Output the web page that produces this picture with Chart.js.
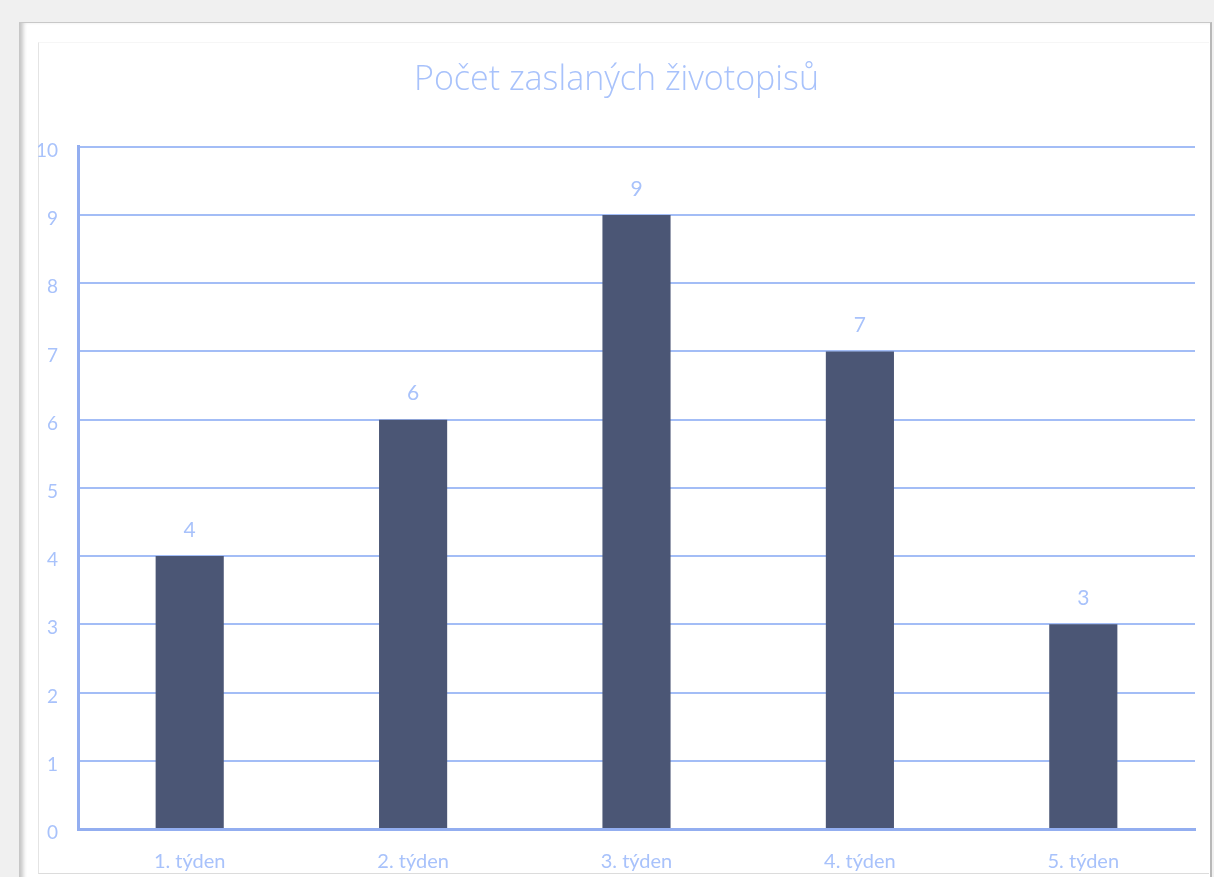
<!DOCTYPE html>
<html>
<head>
<meta charset="utf-8">
<script src="https://cdn.jsdelivr.net/npm/chart.js@4/dist/chart.umd.min.js"></script>
<style>
  html, body { margin: 0; padding: 0; background: #f0f0f0; overflow: hidden; }
  #panel {
    position: absolute; left: 19px; top: 22px; width: 1191px; height: 880px;
    background: #fff; border-top: 1px solid #c8c8c8; border-right: 2px solid #b8b8b8;
    box-shadow: inset 6px 0 4px -2px #c4c4c4;
  }
  #inner {
    position: absolute; left: 38px; top: 42px; width: 1170px; height: 830px;
    border-left: 1px solid #e4e4e4; border-top: 1px solid #f6f6f6; border-bottom: 1px solid #dcdcdc;
  }
  #wrap { position: absolute; left: 38px; top: 42px; width: 1172px; height: 835px; }
</style>
</head>
<body>
<div id="panel"></div>
<div id="inner"></div>
<div id="wrap"><canvas id="chart"></canvas></div>
<script>
const weeks = ['1. týden', '2. týden', '3. týden', '4. týden', '5. týden'];
const cvCount = [4, 6, 9, 7, 3];
const yTicks = [0, 1, 2, 3, 4, 5, 6, 7, 8, 9, 10];

const blue = '#a8c2fb';
const lineBlue = '#a3bdf6';
const barColor = '#4b5675';
const fontName = 'Lato, "Open Sans", sans-serif';

const valueLabels = {
  id: 'valueLabels',
  afterDatasetsDraw(chart) {
    const ctx = chart.ctx;
    const meta = chart.getDatasetMeta(0);
    ctx.save();
    ctx.fillStyle = blue;
    ctx.font = '21px ' + fontName;
    ctx.textAlign = 'center';
    ctx.textBaseline = 'middle';
    meta.data.forEach((bar, i) => {
      ctx.fillText(String(cvCount[i]), bar.x, bar.y - 26);
    });
    ctx.restore();
  }
};

new Chart(document.getElementById('chart'), {
  type: 'bar',
  data: {
    labels: weeks,
    datasets: [{
      data: cvCount,
      backgroundColor: barColor,
      borderWidth: 0,
      barPercentage: 0.61,
      categoryPercentage: 0.5
    }]
  },
  options: {
    responsive: true,
    maintainAspectRatio: false,
    animation: false,
    layout: { padding: { top: 0, right: 15, bottom: 0, left: 0 } },
    plugins: {
      legend: { display: false },
      tooltip: { enabled: false },
      title: {
        display: true,
        text: 'Počet zaslaných životopisů',
        color: blue,
        font: { family: '"Open Sans", Lato, sans-serif', size: 34, weight: '300' },
        padding: { top: 18, bottom: 46 }
      }
    },
    scales: {
      x: {
        grid: {
          drawTicks: false,
          lineWidth: 2,
          color: (c) => (c.index === 0 || c.index === weeks.length) ? lineBlue : 'transparent'
        },
        border: { display: true, color: '#93aef0', width: 3 },
        ticks: { color: blue, font: { family: fontName, size: 20 }, padding: 21 },
        afterFit: (scale) => { scale.height = 48; }
      },
      y: {
        min: 0,
        max: 10,
        afterBuildTicks: (scale) => { scale.ticks = yTicks.map(v => ({ value: v })); },
        grid: { drawTicks: false, lineWidth: 2, color: lineBlue },
        border: { display: true, color: '#93aef0', width: 3 },
        ticks: { color: blue, font: { family: fontName, size: 19 }, padding: 20, labelOffset: 4 },
        afterFit: (scale) => { scale.width = 40; }
      }
    }
  },
  plugins: [valueLabels]
});
</script>
</body>
</html>
